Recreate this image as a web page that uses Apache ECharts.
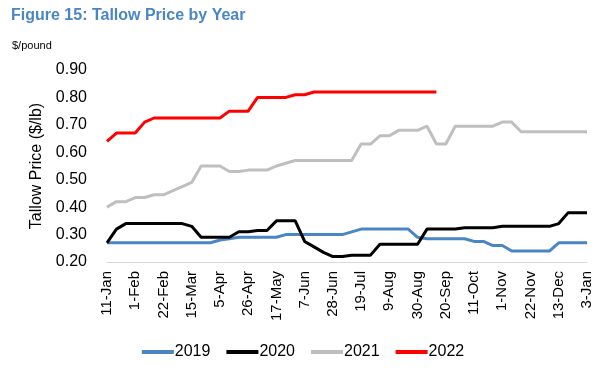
<!DOCTYPE html>
<html>
<head>
<meta charset="utf-8">
<script src="https://cdn.jsdelivr.net/npm/echarts@6/dist/echarts.min.js"></script>
<style>
html,body{margin:0;padding:0;background:#fff;}
#c{width:606px;height:371px;}
</style>
</head>
<body>
<div id="c"></div>
<script>
const weeks = ["11-Jan","18-Jan","25-Jan","1-Feb","8-Feb","15-Feb","22-Feb","1-Mar","8-Mar","15-Mar","22-Mar","29-Mar","5-Apr","12-Apr","19-Apr","26-Apr","3-May","10-May","17-May","24-May","31-May","7-Jun","14-Jun","21-Jun","28-Jun","5-Jul","12-Jul","19-Jul","26-Jul","2-Aug","9-Aug","16-Aug","23-Aug","30-Aug","6-Sep","13-Sep","20-Sep","27-Sep","4-Oct","11-Oct","18-Oct","25-Oct","1-Nov","8-Nov","15-Nov","22-Nov","29-Nov","6-Dec","13-Dec","20-Dec","27-Dec","3-Jan"];

const s2019 = [0.27,0.27,0.27,0.27,0.27,0.27,0.27,0.27,0.27,0.27,0.27,0.27,0.28,0.285,0.29,0.29,0.29,0.29,0.29,0.30,0.30,0.30,0.30,0.30,0.30,0.30,0.31,0.32,0.32,0.32,0.32,0.32,0.32,0.29,0.285,0.285,0.285,0.285,0.285,0.275,0.275,0.26,0.26,0.24,0.24,0.24,0.24,0.24,0.27,0.27,0.27,0.27];

const s2020 = [0.27,0.32,0.34,0.34,0.34,0.34,0.34,0.34,0.34,0.33,0.29,0.29,0.29,0.29,0.31,0.31,0.315,0.315,0.35,0.35,0.35,0.275,0.255,0.235,0.22,0.22,0.225,0.225,0.225,0.265,0.265,0.265,0.265,0.265,0.32,0.32,0.32,0.32,0.325,0.325,0.325,0.325,0.33,0.33,0.33,0.33,0.33,0.33,0.34,0.38,0.38,0.38];

const s2021 = [0.40,0.42,0.42,0.435,0.435,0.445,0.445,0.46,0.475,0.49,0.55,0.55,0.55,0.53,0.53,0.535,0.535,0.535,0.55,0.56,0.57,0.57,0.57,0.57,0.57,0.57,0.57,0.63,0.63,0.66,0.66,0.68,0.68,0.68,0.695,0.63,0.63,0.695,0.695,0.695,0.695,0.695,0.71,0.71,0.675,0.675,0.675,0.675,0.675,0.675,0.675,0.675];

const s2022 = [0.64,0.67,0.67,0.67,0.71,0.725,0.725,0.725,0.725,0.725,0.725,0.725,0.725,0.75,0.75,0.75,0.80,0.80,0.80,0.80,0.81,0.81,0.82,0.82,0.82,0.82,0.82,0.82,0.82,0.82,0.82,0.82,0.82,0.82,0.82,0.82];

const seriesNames = ["2019","2020","2021","2022"];
const seriesColors = ["#4a86c4","#000000","#bfbfbf","#ff0000"];
const seriesData = [s2019,s2020,s2021,s2022];

const chart = echarts.init(document.getElementById('c'), null, {renderer:'canvas'});
const font = 'Arial, "Liberation Sans", sans-serif';
chart.setOption({
  animation:false,
  backgroundColor:'#ffffff',
  title:[
    {text:'Figure 15: Tallow Price by Year', left:6, top:3,
     textStyle:{fontFamily:font, fontSize:16, fontWeight:'bold', color:'#4a86c4'}},
    {text:'$/pound', left:7, top:35,
     textStyle:{fontFamily:font, fontSize:11, fontWeight:'normal', color:'#000'}}
  ],
  grid:{left:107, right:19, top:70, bottom:109, containLabel:false},
  legend:{
    data:seriesNames, bottom:6, left:'center',
    icon:'rect', itemWidth:32, itemHeight:4, itemGap:16,
    textStyle:{fontFamily:font, fontSize:16, color:'#000', padding:[0,0,0,-4]}
  },
  xAxis:{
    type:'category', data:weeks, boundaryGap:false,
    axisLine:{show:true, lineStyle:{color:'#d9d9d9', width:1}},
    axisTick:{show:false},
    axisLabel:{interval:2, rotate:90, fontFamily:font, fontSize:15, color:'#000', margin:9}
  },
  yAxis:{
    type:'value', min:0.2, max:0.9, interval:0.1,
    name:'Tallow Price ($/lb)', nameLocation:'middle', nameGap:58, nameRotate:90,
    nameTextStyle:{fontFamily:font, fontSize:16, color:'#000'},
    axisLine:{show:false}, axisTick:{show:false}, splitLine:{show:false},
    axisLabel:{fontFamily:font, fontSize:16, color:'#000', margin:20,
      formatter:function(v){return v.toFixed(2);}}
  },
  series: seriesNames.map(function(n,i){
    return {name:n, type:'line', data:seriesData[i], symbol:'none', smooth:false,
      lineStyle:{color:seriesColors[i], width:3}, itemStyle:{color:seriesColors[i]}};
  })
});
</script>
</body>
</html>
